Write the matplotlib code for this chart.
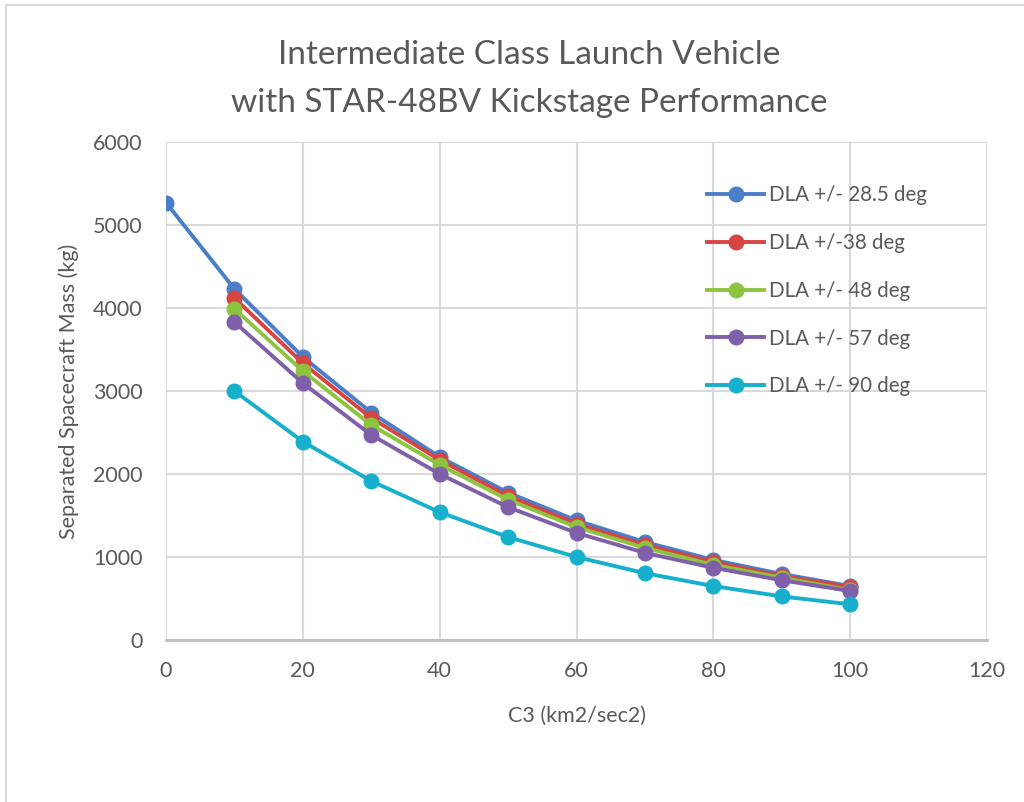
import matplotlib.pyplot as plt
from matplotlib.patches import Rectangle

plt.rcParams['font.family'] = ['Lato', 'DejaVu Sans']

c3 = [0, 10, 20, 30, 40, 50, 60, 70, 80, 90, 100]
c3_short = [10, 20, 30, 40, 50, 60, 70, 80, 90, 100]

mass_285 = [5270, 4230, 3410, 2740, 2205, 1775, 1440, 1180, 965, 795, 650]
mass_38 = [4120, 3335, 2675, 2170, 1735, 1400, 1145, 940, 770, 640]
mass_48 = [3990, 3240, 2590, 2110, 1690, 1360, 1110, 905, 750, 600]
mass_57 = [3830, 3095, 2470, 2000, 1600, 1290, 1050, 870, 720, 590]
mass_90 = [3000, 2390, 1915, 1540, 1240, 1000, 805, 650, 525, 430]

labels = ["DLA +/- 28.5 deg", "DLA +/-38 deg", "DLA +/- 48 deg",
          "DLA +/- 57 deg", "DLA +/- 90 deg"]
colors = ["#4A7EC8", "#D64541", "#8CC43F", "#7F5FAA", "#16B0CC"]
grey = "#595959"

fig = plt.figure(figsize=(10.24, 8.02), dpi=100)
# light frame around the chart (left and top edges visible)
fig.patches.append(Rectangle((6/1024, -0.1), 1.1, 1.1 - 5/802, transform=fig.transFigure,
                             fill=False, edgecolor="#d9d9d9", linewidth=1.5))
ax = fig.add_axes([166/1024, 1 - 640/802, (987-166)/1024, (640-142)/802])

series = [(c3, mass_285), (c3_short, mass_38), (c3_short, mass_48),
          (c3_short, mass_57), (c3_short, mass_90)]
for (xs, ys), lab, col in zip(series, labels, colors):
    ax.plot(xs, ys, "-o", color=col, lw=2.8, markersize=10.5, label=lab)

ax.set_xlim(0, 120)
ax.set_ylim(0, 6000)
ax.set_xticks(range(0, 121, 20))
ax.set_yticks(range(0, 6001, 1000))
ax.grid(True, color="#d9d9d9", lw=1.5)
ax.set_axisbelow(True)
for s in ["top", "right", "left"]:
    ax.spines[s].set_visible(False)
ax.spines["bottom"].set_color("#bfbfbf")
ax.spines["bottom"].set_linewidth(2)
ax.tick_params(axis="y", length=0, labelsize=15.5, labelcolor=grey, pad=17)
ax.tick_params(axis="x", length=0, labelsize=15.5, labelcolor=grey, pad=15)

ax.set_xlabel("C3 (km2/sec2)", fontsize=15.5, color=grey, labelpad=18)
ax.set_ylabel("Separated Spacecraft Mass (kg)", fontsize=15.5, color=grey, labelpad=10)

fig.text(529/1024, 1 - 64/802, "Intermediate Class Launch Vehicle",
         ha="center", va="baseline", fontsize=24, color=grey)
fig.text(529/1024, 1 - 112/802, "with STAR-48BV Kickstage Performance",
         ha="center", va="baseline", fontsize=24, color=grey)

ax.legend(loc="upper left", bbox_to_anchor=(0.637, 0.95), frameon=False,
          fontsize=14.8, labelcolor=grey, handlelength=2.75, handletextpad=0.25,
          labelspacing=1.35)

plt.savefig("out.png", dpi=100)
